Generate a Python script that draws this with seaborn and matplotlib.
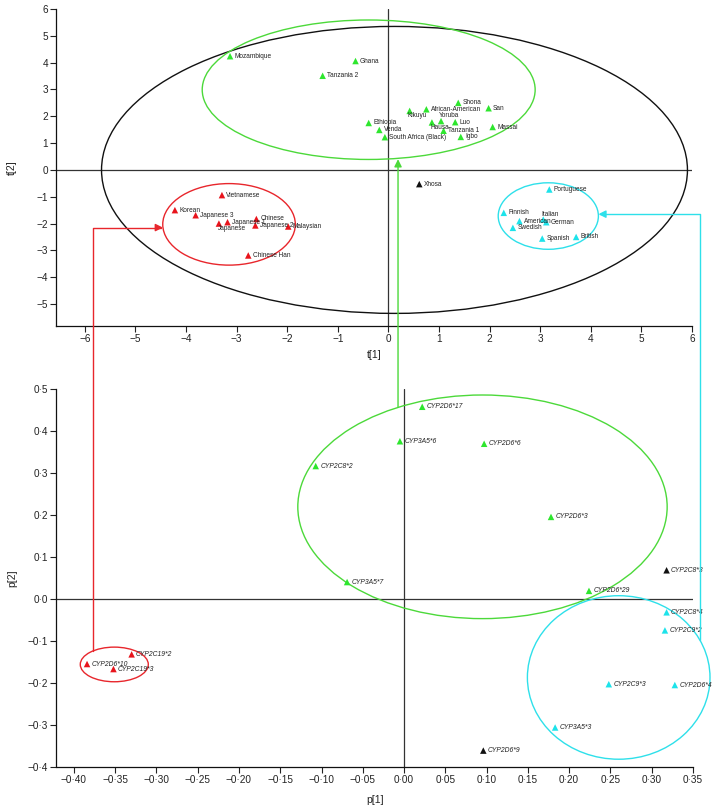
import numpy as np
import pandas as pd
import seaborn as sns
import matplotlib.pyplot as plt
from matplotlib.patches import Ellipse, ConnectionPatch
from matplotlib.ticker import FuncFormatter

# Scores (populations)
pop_names = ['Mozambique', 'Ghana', 'Tanzania 2', 'Shona', 'San', 'African-American', 'Kikuyu',
             'Yoruba', 'Luo', 'Hausa', 'Tanzania 1', 'Igbo', 'Massai', 'Ethiopia', 'Venda',
             'South Africa (Black)', 'Xhosa',
             'Vietnamese', 'Korean', 'Japanese 3', 'Japanese 1', 'Japanese', 'Chinese',
             'Japanese 2', 'Malaysian', 'Chinese Han',
             'Portuguese', 'Finnish', 'Italian', 'German', 'American', 'Swedish', 'Spanish', 'British']
pop_t1 = [-3.13, -0.65, -1.30, 1.38, 1.98, 0.75, 0.42, 1.04, 1.32, 0.86, 1.09, 1.43, 2.06, -0.39, -0.18,
          -0.07, 0.61,
          -3.29, -4.22, -3.81, -3.18, -3.35, -2.61, -2.63, -1.98, -2.77,
          3.18, 2.28, 3.06, 3.12, 2.59, 2.46, 3.04, 3.71]
pop_t2 = [4.24, 4.06, 3.51, 2.50, 2.30, 2.26, 2.20, 1.82, 1.78, 1.77, 1.46, 1.23, 1.60, 1.75, 1.49,
          1.22, -0.53,
          -0.94, -1.50, -1.69, -1.95, -2.00, -1.83, -2.07, -2.11, -3.19,
          -0.73, -1.60, -1.85, -1.95, -1.91, -2.16, -2.56, -2.50]
pop_group = ['Africa'] * 16 + ['Other'] + ['Asia'] * 9 + ['Europe'] * 8

# Loadings (alleles)
allele_names = ['CYP2D6*17', 'CYP3A5*6', 'CYP2D6*6', 'CYP2C8*2', 'CYP2D6*3', 'CYP3A5*7', 'CYP2D6*29',
                'CYP2C8*3', 'CYP2D6*9',
                'CYP2C8*4', 'CYP2C9*2', 'CYP2C9*3', 'CYP2D6*4', 'CYP3A5*3',
                'CYP2D6*10', 'CYP2C19*2', 'CYP2C19*3']
allele_p1 = [0.022, -0.005, 0.097, -0.107, 0.178, -0.069, 0.224, 0.318, 0.096,
             0.318, 0.316, 0.248, 0.328, 0.183,
             -0.384, -0.330, -0.352]
allele_p2 = [0.457, 0.375, 0.369, 0.316, 0.195, 0.040, 0.019, 0.068, -0.361,
             -0.032, -0.075, -0.203, -0.205, -0.306,
             -0.155, -0.132, -0.167]
allele_group = ['Africa'] * 7 + ['Other'] * 2 + ['Europe'] * 5 + ['Asia'] * 3

# cluster ellipses: centre x, centre y, half width, half height
ell_groups = ['Other', 'Africa', 'Asia', 'Europe']
top_cx = [0.12, -0.39, -3.15, 3.16]
top_cy = [0.0, 2.99, -2.03, -1.72]
top_a = [5.79, 3.29, 1.31, 0.99]
top_b = [5.35, 2.60, 1.52, 1.24]
bot_groups = ['Africa', 'Asia', 'Europe']
bot_cx = [0.095, -0.351, 0.260]
bot_cy = [0.219, -0.156, -0.187]
bot_a = [0.2237, 0.0412, 0.1106]
bot_b = [0.266, 0.0412, 0.1945]

marker_colors = {'Africa': '#2ee62e', 'Asia': '#e8141c', 'Europe': '#1de3ea', 'Other': '#111111'}
line_colors = {'Africa': '#4cd93a', 'Asia': '#e8262c', 'Europe': '#2ee0ea', 'Other': '#111111'}

# labels that sit above / below their marker (offset in points)
label_offsets = {'Kikuyu': (-1.5, -3.6), 'Yoruba': (-1.5, 4.2), 'Hausa': (-1.2, -3.3),
                 'Japanese': (-0.8, -3.6), 'Italian': (-1.2, 3.6)}

sns.set_theme(style='ticks')
plt.rcParams['font.family'] = ['Liberation Sans', 'DejaVu Sans']

W, H = 715, 807
fig = plt.figure(figsize=(W / 100, H / 100), dpi=100)


def px_axes(l, t, r, b):
    return fig.add_axes([l / W, 1 - b / H, (r - l) / W, (b - t) / H])


ax1 = px_axes(56.5, 9, 692, 326)
ax2 = px_axes(56.5, 388.7, 693, 767)

df_pop = pd.DataFrame({'name': pop_names, 't1': pop_t1, 't2': pop_t2, 'group': pop_group})
df_al = pd.DataFrame({'name': allele_names, 'p1': allele_p1, 'p2': allele_p2, 'group': allele_group})

for ax in (ax1, ax2):
    ax.axhline(0, color='#333333', lw=0.9, zorder=1)
    ax.axvline(0, color='#333333', lw=0.9, zorder=1)

sns.scatterplot(data=df_pop, x='t1', y='t2', hue='group', palette=marker_colors, marker='^',
                s=22, linewidth=0, legend=False, ax=ax1, zorder=3, clip_on=False)
sns.scatterplot(data=df_al, x='p1', y='p2', hue='group', palette=marker_colors, marker='^',
                s=22, linewidth=0, legend=False, ax=ax2, zorder=3, clip_on=False)

for _, r in df_pop.iterrows():
    dx, dy = label_offsets.get(r['name'], (3.2, 0))
    ax1.annotate(r['name'], (r['t1'], r['t2']), xytext=(dx, dy), textcoords='offset points',
                 fontsize=4.7, va='center', ha='left', color='#222222', zorder=4)
for _, r in df_al.iterrows():
    ax2.annotate(r['name'], (r['p1'], r['p2']), xytext=(3.2, 0), textcoords='offset points',
                 fontsize=4.9, style='italic', va='center', ha='left', color='#222222', zorder=4)

for g, cx, cy, a, b in zip(ell_groups, top_cx, top_cy, top_a, top_b):
    ax1.add_patch(Ellipse((cx, cy), 2 * a, 2 * b, fill=False, ec=line_colors[g], lw=1.0,
                          clip_on=False, zorder=2))
for g, cx, cy, a, b in zip(bot_groups, bot_cx, bot_cy, bot_a, bot_b):
    ax2.add_patch(Ellipse((cx, cy), 2 * a, 2 * b, fill=False, ec=line_colors[g], lw=1.0,
                          clip_on=False, zorder=2))

ax1.set_xlim(-6.56, 6.0)
ax1.set_ylim(-5.82, 6.0)
ax1.set_xticks(range(-6, 7))
ax1.set_yticks(range(-5, 7))
ax2.set_xlim(-0.421, 0.35)
ax2.set_ylim(-0.4, 0.5)
ax2.set_xticks(np.round(np.arange(-0.40, 0.351, 0.05), 2))
ax2.set_yticks(np.round(np.arange(-0.4, 0.51, 0.1), 1))


def fmt(v, nd):
    if abs(v) < 1e-9:
        v = 0.0
    return f'{v:.{nd}f}'.replace('.', '\u00b7').replace('-', '\u2212')


ax1.xaxis.set_major_formatter(FuncFormatter(lambda v, p: fmt(v, 0)))
ax1.yaxis.set_major_formatter(FuncFormatter(lambda v, p: fmt(v, 0)))
ax2.xaxis.set_major_formatter(FuncFormatter(lambda v, p: fmt(v, 2)))
ax2.yaxis.set_major_formatter(FuncFormatter(lambda v, p: fmt(v, 1)))

for ax, xl, yl, ly in ((ax1, 't[1]', 't[2]', -0.076), (ax2, 'p[1]', 'p[2]', -0.075)):
    sns.despine(ax=ax)
    for s in ('left', 'bottom'):
        ax.spines[s].set_color('#111111')
        ax.spines[s].set_linewidth(0.9)
    ax.tick_params(direction='out', length=4, width=0.8, labelsize=7.2, pad=2, colors='#222222')
    ax.set_xlabel(xl, fontsize=7.5, color='#222222')
    ax.set_ylabel(yl, fontsize=7.5, color='#222222')
    ax.xaxis.set_label_coords(0.5, ly)
    ax.yaxis.set_label_coords(-0.062, 0.5)


def ell_y(i, x, cx, cy, a, b):
    return cy[i] + b[i] * np.sqrt(max(0.0, 1 - ((x - cx[i]) / a[i]) ** 2))


def ell_x(i, y, cx, cy, a, b, side):
    return cx[i] + side * a[i] * np.sqrt(max(0.0, 1 - ((y - cy[i]) / b[i]) ** 2))


arrow_kw = dict(arrowstyle='-|>', mutation_scale=11, lw=1.0, zorder=5)

# red: Asian alleles -> Asian populations
xa = -0.3767
yt = -2.15
fig.add_artist(ConnectionPatch(
    (xa, ell_y(1, xa, bot_cx, bot_cy, bot_a, bot_b)), (ell_x(2, yt, top_cx, top_cy, top_a, top_b, -1), yt),
    coordsA=ax2.transData, coordsB=ax1.transData, connectionstyle='angle,angleA=90,angleB=0,rad=0',
    color=line_colors['Asia'], **arrow_kw))

# green: African alleles -> African populations
xg = -0.0073
disp_x = ax2.transData.transform((xg, 0))[0]
xg_top = ax1.transData.inverted().transform((disp_x, 0))[0]
fig.add_artist(ConnectionPatch(
    (xg, ell_y(0, xg, bot_cx, bot_cy, bot_a, bot_b)), (xg_top, 0.40),
    coordsA=ax2.transData, coordsB=ax1.transData, color=line_colors['Africa'], **arrow_kw))

# cyan: European alleles -> European populations
xc = 0.3585
yc = -1.65
fig.add_artist(ConnectionPatch(
    (xc, ell_y(2, xc, bot_cx, bot_cy, bot_a, bot_b)), (ell_x(3, yc, top_cx, top_cy, top_a, top_b, 1), yc),
    coordsA=ax2.transData, coordsB=ax1.transData, connectionstyle='angle,angleA=90,angleB=0,rad=0',
    color=line_colors['Europe'], **arrow_kw))

fig.savefig('out.png', dpi=100, facecolor='white')
